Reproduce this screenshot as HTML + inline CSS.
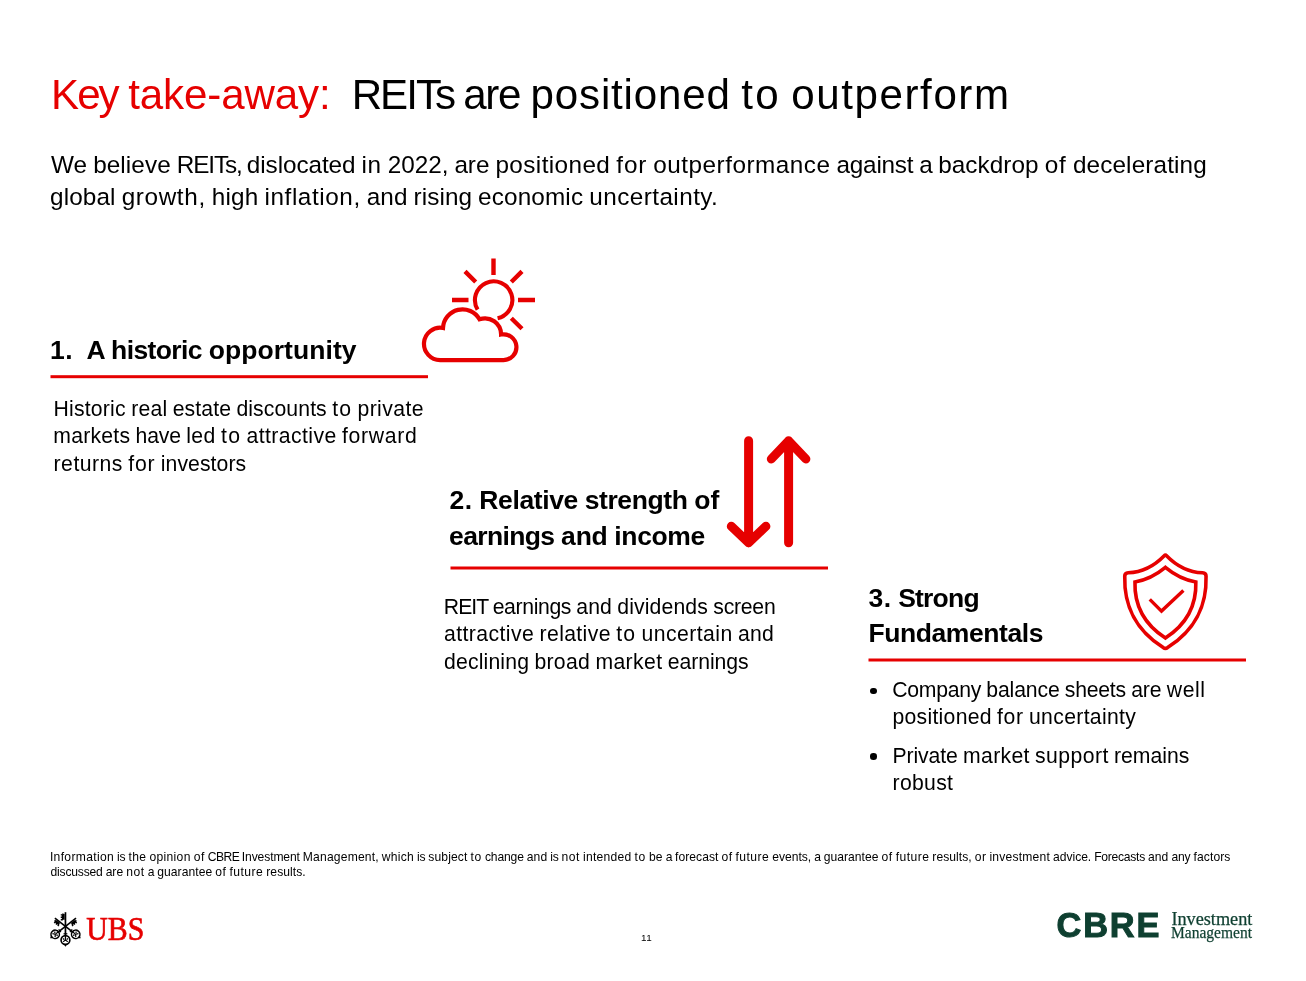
<!DOCTYPE html>
<html lang="en"><head><meta charset="utf-8"><title>Key take-away: REITs are positioned to outperform</title>
<style>
html,body{margin:0;padding:0;background:#fff}
#slide{position:relative;width:1306px;height:981px;overflow:hidden;background:#fff;font-family:"Liberation Sans",sans-serif;color:#000}
.ln{position:absolute;display:block;white-space:pre;line-height:1;margin:0;padding:0;font-weight:400}
h1,h2,p,ul,li{margin:0;padding:0;font-size:inherit;font-weight:inherit;list-style:none}
.dot{position:absolute;width:6.6px;height:6.6px;border-radius:50%;background:#000}
svg.art{position:absolute;left:0;top:0}
</style></head><body><div id="slide">
<h1><span class="ln" style='left:51.03px;top:74.30px;font-size:42.1px;word-spacing:-1.27px;color:#e60000;'><span style='letter-spacing:-1.94px'>Key</span> <span style='letter-spacing:-0.12px'>take-away:</span></span><span class="ln" style='left:351.65px;top:74.30px;font-size:42.1px;word-spacing:-1.19px;'><span style='letter-spacing:-1.94px;margin-right:-1.58px'>REITs</span> <span style='letter-spacing:-1.31px'>are</span> <span style='letter-spacing:0.82px'>positioned</span> <span style='letter-spacing:2.25px'>to</span> <span style='letter-spacing:1.57px'>outperform</span></span></h1>
<p><span class="ln" style='left:51.07px;top:153.00px;font-size:24.3px;word-spacing:-0.72px;'><span style='letter-spacing:0.01px'>We</span> <span style='letter-spacing:0.10px'>believe</span> <span style='letter-spacing:-1.12px;margin-right:-0.90px'>REITs,</span> <span style='letter-spacing:-0.08px'>dislocated</span> <span style='letter-spacing:0.61px'>in</span> <span style='letter-spacing:-0.02px'>2022,</span> <span style='letter-spacing:-0.04px'>are</span> <span style='letter-spacing:0.41px'>positioned</span> <span style='letter-spacing:0.86px'>for</span> <span style='letter-spacing:0.50px'>outperformance</span> <span style='letter-spacing:-0.22px'>against</span> <span style='letter-spacing:-0.74px'>a</span> <span style='letter-spacing:0.06px'>backdrop</span> <span style='letter-spacing:0.97px'>of</span> <span style='letter-spacing:0.13px'>decelerating</span></span><span class="ln" style='left:50.00px;top:185.00px;font-size:24.3px;word-spacing:-0.72px;'><span style='letter-spacing:0.13px'>global</span> <span style='letter-spacing:0.63px'>growth,</span> <span style='letter-spacing:0.19px'>high</span> <span style='letter-spacing:0.57px'>inflation,</span> <span style='letter-spacing:0.08px'>and</span> <span style='letter-spacing:0.07px'>rising</span> <span style='letter-spacing:0.14px'>economic</span> <span style='letter-spacing:0.44px'>uncertainty.</span></span></p>
<section><h2><span class="ln" style='left:50.07px;top:337.00px;font-size:26.5px;word-spacing:-0.66px;font-weight:700;'><span style='letter-spacing:0.42px'>1.</span>  <span style='letter-spacing:-1.18px'>A</span> <span style='letter-spacing:-0.61px'>historic</span> <span style='letter-spacing:0.07px'>opportunity</span></span></h2><p><span class="ln" style='left:53.48px;top:397.50px;font-size:21.2px;word-spacing:-0.58px;'><span style='letter-spacing:0.22px'>Historic</span> <span style='letter-spacing:0.21px'>real</span> <span style='letter-spacing:0.12px'>estate</span> <span style='letter-spacing:0.10px'>discounts</span> <span style='letter-spacing:1.16px'>to</span> <span style='letter-spacing:0.40px'>private</span></span><span class="ln" style='left:53.35px;top:425.20px;font-size:21.2px;word-spacing:-0.57px;'><span style='letter-spacing:0.22px'>markets</span> <span style='letter-spacing:-0.15px'>have</span> <span style='letter-spacing:0.40px'>led</span> <span style='letter-spacing:1.20px'>to</span> <span style='letter-spacing:0.42px'>attractive</span> <span style='letter-spacing:0.70px'>forward</span></span><span class="ln" style='left:53.59px;top:453.00px;font-size:21.2px;word-spacing:-0.58px;'><span style='letter-spacing:0.49px'>returns</span> <span style='letter-spacing:0.84px'>for</span> <span style='letter-spacing:0.06px'>investors</span></span></p></section>
<section><h2><span class="ln" style='left:449.61px;top:487.00px;font-size:26.5px;word-spacing:-0.67px;font-weight:700;'><span style='letter-spacing:0.41px'>2.</span> <span style='letter-spacing:-0.36px'>Relative</span> <span style='letter-spacing:-0.41px'>strength</span> <span style='letter-spacing:0.14px'>of</span></span><span class="ln" style='left:449.11px;top:522.50px;font-size:26.5px;word-spacing:-0.65px;font-weight:700;'><span style='letter-spacing:-0.65px'>earnings</span> <span style='letter-spacing:-0.20px'>and</span> <span style='letter-spacing:-0.37px'>income</span></span></h2><p><span class="ln" style='left:443.87px;top:595.80px;font-size:21.2px;word-spacing:-0.62px;'><span style='letter-spacing:-0.98px;margin-right:-0.79px'>REIT</span> <span style='letter-spacing:-0.37px'>earnings</span> <span style='letter-spacing:0.09px'>and</span> <span style='letter-spacing:0.14px'>dividends</span> <span style='letter-spacing:-0.24px'>screen</span></span><span class="ln" style='left:444.06px;top:623.20px;font-size:21.2px;word-spacing:-0.57px;'><span style='letter-spacing:0.42px'>attractive</span> <span style='letter-spacing:0.37px'>relative</span> <span style='letter-spacing:1.19px'>to</span> <span style='letter-spacing:0.45px'>uncertain</span> <span style='letter-spacing:0.21px'>and</span></span><span class="ln" style='left:443.98px;top:651.00px;font-size:21.2px;word-spacing:-0.62px;'><span style='letter-spacing:0.17px'>declining</span> <span style='letter-spacing:0.30px'>broad</span> <span style='letter-spacing:0.38px'>market</span> <span style='letter-spacing:-0.06px'>earnings</span></span></p></section>
<section><h2><span class="ln" style='left:868.46px;top:584.50px;font-size:26.5px;word-spacing:-0.64px;font-weight:700;'><span style='letter-spacing:0.45px'>3.</span> <span style='letter-spacing:-0.80px'>Strong</span></span><span class="ln" style='left:868.52px;top:620.00px;font-size:26.5px;font-weight:700;'><span style='letter-spacing:-0.43px'>Fundamentals</span></span></h2><ul><li><span class='dot' style='left:870px;top:687.7px'></span><span class="ln" style='left:892.30px;top:678.80px;font-size:21.2px;word-spacing:-0.64px;'><span style='letter-spacing:-0.28px'>Company</span> <span style='letter-spacing:-0.13px'>balance</span> <span style='letter-spacing:-0.23px'>sheets</span> <span style='letter-spacing:-0.06px'>are</span> <span style='letter-spacing:0.52px'>well</span></span><span class="ln" style='left:892.50px;top:706.20px;font-size:21.2px;word-spacing:-0.67px;'><span style='letter-spacing:0.27px'>positioned</span> <span style='letter-spacing:0.67px'>for</span> <span style='letter-spacing:0.33px'>uncertainty</span></span></li>
<li><span class='dot' style='left:870px;top:753.2px'></span><span class="ln" style='left:892.38px;top:744.50px;font-size:21.2px;word-spacing:-0.65px;'><span style='letter-spacing:-0.07px'>Private</span> <span style='letter-spacing:0.32px'>market</span> <span style='letter-spacing:0.43px'>support</span> <span style='letter-spacing:0.02px'>remains</span></span><span class="ln" style='left:892.61px;top:771.90px;font-size:21.2px;'><span style='letter-spacing:0.29px'>robust</span></span></li></ul></section>
<footer><p><span class="ln" style='left:49.93px;top:850.80px;font-size:12.1px;word-spacing:-0.35px;'><span style='letter-spacing:0.33px'>Information</span> <span style='letter-spacing:-0.23px'>is</span> <span style='letter-spacing:0.43px'>the</span> <span style='letter-spacing:0.31px'>opinion</span> <span style='letter-spacing:0.51px'>of</span> <span style='letter-spacing:-0.56px;margin-right:-0.45px'>CBRE</span> <span style='letter-spacing:-0.11px'>Investment</span> <span style='letter-spacing:0.18px'>Management,</span> <span style='letter-spacing:0.26px'>which</span> <span style='letter-spacing:-0.23px'>is</span> <span style='letter-spacing:0.12px'>subject</span> <span style='letter-spacing:0.64px'>to</span> <span style='letter-spacing:-0.14px'>change</span> <span style='letter-spacing:0.07px'>and</span> <span style='letter-spacing:-0.23px'>is</span> <span style='letter-spacing:0.56px'>not</span> <span style='letter-spacing:0.27px'>intended</span> <span style='letter-spacing:0.64px'>to</span> <span style='letter-spacing:0.09px'>be</span> <span style='letter-spacing:-0.34px'>a</span> <span style='letter-spacing:0.04px'>forecast</span> <span style='letter-spacing:0.51px'>of</span> <span style='letter-spacing:0.45px'>future</span> <span style='letter-spacing:-0.00px'>events,</span> <span style='letter-spacing:-0.34px'>a</span> <span style='letter-spacing:0.05px'>guarantee</span> <span style='letter-spacing:0.51px'>of</span> <span style='letter-spacing:0.45px'>future</span> <span style='letter-spacing:0.05px'>results,</span> <span style='letter-spacing:0.46px'>or</span> <span style='letter-spacing:0.21px'>investment</span> <span style='letter-spacing:-0.03px'>advice.</span> <span style='letter-spacing:-0.26px'>Forecasts</span> <span style='letter-spacing:0.07px'>and</span> <span style='letter-spacing:-0.11px'>any</span> <span style='letter-spacing:0.08px'>factors</span></span><span class="ln" style='left:50.53px;top:866.20px;font-size:12.1px;word-spacing:-0.34px;'><span style='letter-spacing:-0.19px'>discussed</span> <span style='letter-spacing:0.02px'>are</span> <span style='letter-spacing:0.58px'>not</span> <span style='letter-spacing:-0.33px'>a</span> <span style='letter-spacing:0.06px'>guarantee</span> <span style='letter-spacing:0.52px'>of</span> <span style='letter-spacing:0.47px'>future</span> <span style='letter-spacing:0.07px'>results.</span></span></p>
<p><span class="ln" style='left:640.93px;top:933.00px;font-size:9.9px;'><span style='letter-spacing:0.59px'>11</span></span></p>
</footer>
<svg class="art" width="1306" height="981" viewBox="0 0 1306 981">
<g fill="#e60000" stroke="none"><rect x="50.5" y="375.2" width="377.5" height="3"/><rect x="450.5" y="566.5" width="377.5" height="3"/><rect x="868.5" y="658.5" width="377.5" height="3"/></g>
<g fill="none" stroke="#e60000">
 <g stroke-width="4.4">
  <path d="M493.5 258.5V275M452 300H468.5M518 300H535M465 271.4L475.7 282M522 271.4L511.3 282M511.3 318.2L522 328.8"/>
 </g>
 <path stroke-width="4.1" d="M477.6 309.6A18.7 18.7 0 1 1 497.6 318.3"/>
 <path stroke-width="4.2" stroke-linejoin="miter" stroke-miterlimit="6" d="M440.3 360.1A16.2 16.2 0 1 1 443 327.95A19.5 19.5 0 0 1 479.5 319.3A16.2 16.2 0 0 1 501.1 334.53A12.9 12.9 0 1 1 503.5 360.1Z"/>
 <g stroke-width="9" stroke-linecap="round" stroke-linejoin="round">
  <path d="M748.6 440.8V542.8M731.3 526.3L748.6 542.8L765.9 526.3"/>
  <path d="M788.6 542.8V440.8M771.3 459L788.6 440.8L805.9 459"/>
 </g>
 <g stroke-width="3.6" stroke-linejoin="round">
  <path d="M1164 555.9Q1165.4 554.5 1166.8 555.9Q1182.2 571.7 1202.6 572.8Q1206.05 573 1206.05 576.2C1206.8 603.3 1197.9 628 1167.6 647.6Q1165.4 649.3 1163.2 647.6C1132.9 628 1124 603.3 1124.75 576.2Q1124.75 573 1128.2 572.8Q1148.6 571.7 1164 555.9Z"/>
  <path stroke-linejoin="miter" d="M1165.4 567.4Q1179.7 579.3 1195.84 582C1196.5 603.3 1187.8 623.5 1165.4 638.05C1143 623.5 1134.3 603.3 1134.96 582Q1151.1 579.3 1165.4 567.4Z"/>
  <path stroke-width="3.4" stroke-linejoin="miter" d="M1149.75 599.4L1161.5 611.1L1183.4 590.4"/>
 </g>
</g>
<g id="ubs-keys" fill="#000" stroke="none">
 <g transform="translate(65.45 926.3)"><path d="M-0.85 -14.1H0.85V9.4H-0.85Z"/><path d="M-0.8 -12.4H-2V-13H-3V-12H-4.7V-10.8H-3.6V-9.8H-4.7V-8.2H-3.6V-7.3H-4.7V-5.8H-2.6V-6.6H-0.8Z"/><path d="M-1.9 6.9H1.9V8.1H-1.9Z"/><circle cx="0" cy="13.7" r="4.4" fill="none" stroke="#000" stroke-width="1.65"/><path d="M0 9.4V14.2M0 13.6L-2.3 15.6M0 13.6L2.3 15.6M-2.6 12.2L-1.2 13.2M2.6 12.2L1.2 13.2" fill="none" stroke="#000" stroke-width="1.25"/><path d="M-1.6 18.2L0 20.4L1.6 18.2Z"/></g>
 <g transform="translate(65.45 926.3) rotate(-52) scale(0.95)"><path d="M-0.85 -14.1H0.85V9.4H-0.85Z"/><path d="M-0.8 -12.4H-2V-13H-3V-12H-4.7V-10.8H-3.6V-9.8H-4.7V-8.2H-3.6V-7.3H-4.7V-5.8H-2.6V-6.6H-0.8Z"/><path d="M-1.9 6.9H1.9V8.1H-1.9Z"/><circle cx="0" cy="13.7" r="4.4" fill="none" stroke="#000" stroke-width="1.65"/><path d="M0 9.4V14.2M0 13.6L-2.3 15.6M0 13.6L2.3 15.6M-2.6 12.2L-1.2 13.2M2.6 12.2L1.2 13.2" fill="none" stroke="#000" stroke-width="1.25"/><path d="M-1.6 18.2L0 20.4L1.6 18.2Z"/></g>
 <g transform="translate(65.45 926.3) rotate(52) scale(-0.95 0.95)"><path d="M-0.85 -14.1H0.85V9.4H-0.85Z"/><path d="M-0.8 -12.4H-2V-13H-3V-12H-4.7V-10.8H-3.6V-9.8H-4.7V-8.2H-3.6V-7.3H-4.7V-5.8H-2.6V-6.6H-0.8Z"/><path d="M-1.9 6.9H1.9V8.1H-1.9Z"/><circle cx="0" cy="13.7" r="4.4" fill="none" stroke="#000" stroke-width="1.65"/><path d="M0 9.4V14.2M0 13.6L-2.3 15.6M0 13.6L2.3 15.6M-2.6 12.2L-1.2 13.2M2.6 12.2L1.2 13.2" fill="none" stroke="#000" stroke-width="1.25"/><path d="M-1.6 18.2L0 20.4L1.6 18.2Z"/></g>
</g>
<text x="86.3" y="939.8" font-family="Liberation Serif, serif" font-size="34.5" fill="#e60000" stroke="#e60000" stroke-width="0.7" textLength="58" lengthAdjust="spacingAndGlyphs">UBS</text>
<text x="1056.5" y="937.2" font-family="Liberation Sans, sans-serif" font-weight="700" font-size="34.4" fill="#0e3f30" stroke="#0e3f30" stroke-width="1" textLength="103" lengthAdjust="spacing">CBRE</text>
<text x="1171.4" y="924.6" font-family="Liberation Serif, serif" font-size="18.1" fill="#0e3f30" stroke="#0e3f30" stroke-width="0.25" textLength="81" lengthAdjust="spacingAndGlyphs">Investment</text>
<text x="1171" y="937.7" font-family="Liberation Serif, serif" font-size="16.9" fill="#0e3f30" stroke="#0e3f30" stroke-width="0.25" textLength="81" lengthAdjust="spacingAndGlyphs">Management</text>
</svg>
</div></body></html>
